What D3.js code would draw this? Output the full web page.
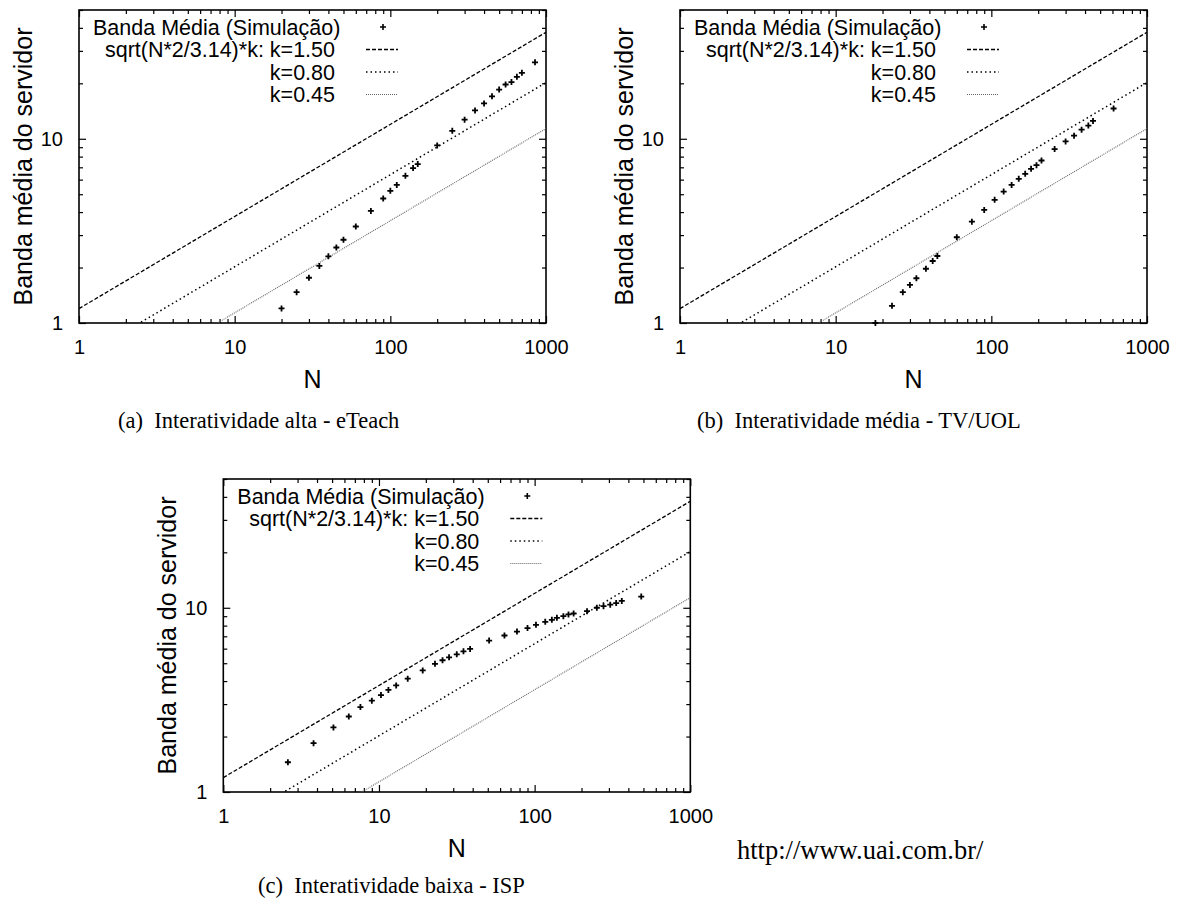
<!DOCTYPE html>
<html>
<head>
<meta charset="utf-8">
<script src="https://cdn.jsdelivr.net/npm/d3@7"></script>
<style>
  body { margin: 0; background: #fff; }
  .plot text { font-family: "Liberation Sans", Arial, sans-serif; fill: #000; }
  .caption { font-family: "Liberation Serif", "Times New Roman", serif; fill: #000; }
</style>
</head>
<body>
<svg width="1183" height="905"></svg>
<script>
// simulation results
const nAlta = [20, 25, 30, 35, 40, 45, 50, 60, 75, 90, 100, 110, 125, 140, 150, 200, 250, 300, 350, 400, 450, 500, 550, 600, 650, 700, 850]
const bandaAlta = [1.20, 1.47, 1.76, 2.04, 2.30, 2.57, 2.83, 3.34, 4.06, 4.74, 5.22, 5.62, 6.29, 6.93, 7.29, 9.20, 11.05, 12.7, 14.25, 15.56, 17.0, 18.5, 19.7, 20.3, 21.7, 22.8, 26.0]

const nMedia = [18, 23, 27, 30, 33, 38, 42, 45, 60, 75, 90, 105, 120, 135, 150, 165, 180, 195, 210, 255, 300, 340, 380, 420, 450, 610]
const bandaMedia = [1.0, 1.24, 1.47, 1.61, 1.75, 1.97, 2.17, 2.31, 2.92, 3.55, 4.11, 4.66, 5.17, 5.62, 6.06, 6.45, 6.87, 7.19, 7.62, 8.79, 9.67, 10.4, 11.2, 11.8, 12.5, 14.6]

const nBaixa = [2.6, 3.8, 5.1, 6.4, 7.6, 9, 10.3, 11.5, 12.9, 15.3, 19.1, 22.9, 25.6, 28.2, 31.6, 34.9, 38.5, 51, 64, 77, 90, 102, 117, 129, 139, 153, 165, 178, 217, 251, 277, 306, 334, 363, 484]
const bandaBaixa = [1.45, 1.84, 2.24, 2.57, 2.89, 3.13, 3.36, 3.58, 3.79, 4.12, 4.57, 4.96, 5.19, 5.38, 5.59, 5.80, 5.98, 6.64, 7.07, 7.43, 7.76, 8.08, 8.39, 8.60, 8.82, 9.00, 9.20, 9.31, 9.58, 10.0, 10.2, 10.4, 10.6, 10.9, 11.5]

const kValues = [1.50, 0.80, 0.45]
const kLabels = ['sqrt(N*2/3.14)*k: k=1.50', 'k=0.80', 'k=0.45']
const simLabel = 'Banda Média (Simulação)'

const xTicks = [1, 10, 100, 1000]
const yTicks = [1, 10]
const xDomain = [1, 1000]
const yDomain = [1, 50]

const captions = [
    '(a)  Interatividade alta - eTeach',
    '(b)  Interatividade média - TV/UOL',
    '(c)  Interatividade baixa - ISP'
]
const site = 'http://www.uai.com.br/'

const svg = d3.select('svg')

const W = 467, H = 313

const lineStyles = [
    { stroke: '#000', width: 1.3, dash: '4,2' },
    { stroke: '#000', width: 1.5, dash: '1.5,3' },
    { stroke: '#666', width: 1.1, dash: '1,1' }
]

const theory = (n, k) => Math.sqrt(n * 2 / 3.14) * k

const minorTicks = (lo, hi) => {
    const out = []
    for (let d = lo; d < hi; d *= 10)
        for (let m = 2; m <= 9; m++)
            if (d * m <= hi) out.push(d * m)
    return out
}

const plusPath = (s) => `M${-s},0H${s}M0,${-s}V${s}`

function drawPanel(id, left, top, nVals, bVals) {
    const g = svg.append('g')
        .attr('class', 'plot')
        .attr('transform', `translate(${left},${top})`)

    const x = d3.scaleLog().domain(xDomain).range([0, W])
    const y = d3.scaleLog().domain(yDomain).range([H, 0])

    g.append('clipPath').attr('id', 'clip' + id)
        .append('rect').attr('width', W).attr('height', H)

    // ticks on all four sides, pointing in
    const xMinor = minorTicks(1, 1000)
    const yMinor = minorTicks(1, 50)

    const axes = [
        [d3.axisBottom(x).tickValues(xTicks).tickFormat(d3.format('d')).tickSize(-7).tickPadding(17), `translate(0,${H})`, true],
        [d3.axisBottom(x).tickValues(xMinor).tickFormat('').tickSize(-4), `translate(0,${H})`, false],
        [d3.axisTop(x).tickValues(xTicks).tickFormat('').tickSize(-7), null, false],
        [d3.axisTop(x).tickValues(xMinor).tickFormat('').tickSize(-4), null, false],
        [d3.axisLeft(y).tickValues(yTicks).tickFormat(d3.format('d')).tickSize(-7).tickPadding(16), null, true],
        [d3.axisLeft(y).tickValues(yMinor).tickFormat('').tickSize(-4), null, false],
        [d3.axisRight(y).tickValues(yTicks).tickFormat('').tickSize(-7), `translate(${W},0)`, false],
        [d3.axisRight(y).tickValues(yMinor).tickFormat('').tickSize(-4), `translate(${W},0)`, false]
    ]
    for (const [ax, tr, labelled] of axes) {
        const a = g.append('g').call(ax.tickSizeOuter(0))
        if (tr) a.attr('transform', tr)
        a.select('.domain').remove()
        a.selectAll('line').attr('stroke', '#000').attr('stroke-width', 1.2)
        if (labelled) a.selectAll('text').style('font-size', '20px').attr('fill', '#000')
    }

    g.append('rect')
        .attr('width', W).attr('height', H)
        .attr('fill', 'none').attr('stroke', '#000').attr('stroke-width', 1.6)

    // theoretical curves
    const line = d3.line().x(d => x(d[0])).y(d => y(d[1]))
    const lines = g.append('g').attr('clip-path', `url(#clip${id})`)
    kValues.forEach((k, i) => {
        lines.append('path')
            .datum(xDomain.map(n => [n, theory(n, k)]))
            .attr('d', line)
            .attr('fill', 'none')
            .attr('stroke', lineStyles[i].stroke)
            .attr('stroke-width', lineStyles[i].width)
            .attr('stroke-dasharray', lineStyles[i].dash)
    })

    // simulation points
    g.append('g').selectAll('path')
        .data(nVals.map((n, i) => [n, bVals[i]]))
        .enter()
        .append('path')
        .attr('transform', d => `translate(${x(d[0])},${y(d[1])})`)
        .attr('d', plusPath(3))
        .attr('stroke', '#000')
        .attr('stroke-width', 1.8)

    // key
    const key = g.append('g').style('font-size', '21.5px')
    key.append('text')
        .attr('x', 14).attr('y', 17).attr('dy', '0.35em')
        .text(simLabel)
    key.append('path')
        .attr('transform', 'translate(304,17)')
        .attr('d', plusPath(3))
        .attr('stroke', '#000').attr('stroke-width', 1.6)
    kLabels.forEach((lab, i) => {
        const ky = 17 + 22.5 * (i + 1)
        key.append('text')
            .attr('x', 256).attr('y', ky).attr('dy', '0.35em')
            .attr('text-anchor', 'end')
            .text(lab)
        key.append('line')
            .attr('x1', 287).attr('x2', 319).attr('y1', ky).attr('y2', ky)
            .attr('stroke', lineStyles[i].stroke)
            .attr('stroke-width', lineStyles[i].width)
            .attr('stroke-dasharray', lineStyles[i].dash)
    })

    // axis titles
    g.append('text')
        .attr('x', W / 2).attr('y', H + 65)
        .attr('text-anchor', 'middle')
        .style('font-size', '25px')
        .text('N')
    g.append('text')
        .attr('transform', `translate(-47,${H / 2}) rotate(-90)`)
        .attr('text-anchor', 'middle')
        .style('font-size', '25px')
        .text('Banda média do servidor')
}

drawPanel('a', 79, 10, nAlta, bandaAlta)
drawPanel('b', 680, 10, nMedia, bandaMedia)
drawPanel('c', 223.3, 479, nBaixa, bandaBaixa)

const capPos = [[118, 428], [697, 428], [258, 893]]
captions.forEach((c, i) => {
    svg.append('text')
        .attr('class', 'caption')
        .attr('x', capPos[i][0]).attr('y', capPos[i][1])
        .style('font-size', '22.5px')
        .style('white-space', 'pre')
        .text(c)
})

svg.append('text')
    .attr('class', 'caption')
    .attr('x', 737).attr('y', 859)
    .style('font-size', '26.5px')
    .text(site)
</script>
</body>
</html>
